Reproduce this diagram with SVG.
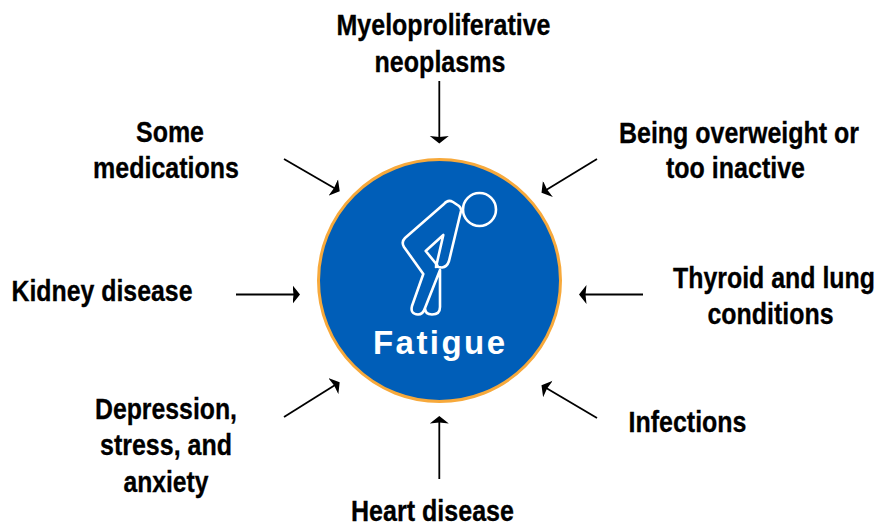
<svg xmlns="http://www.w3.org/2000/svg" width="890" height="523" viewBox="0 0 890 523">
<defs>
<marker id="ah" markerUnits="userSpaceOnUse" markerWidth="8" markerHeight="20" refX="4" refY="9.500" orient="auto" viewBox="0 0 8 19"><path d="M0 0L7.500 9.500L0 19L1 9.500Z" fill="#000"/></marker>
</defs>
<style>
.l{font-family:"Liberation Sans",Arial,sans-serif;font-weight:700;font-size:29px;fill:#000;stroke:#000;stroke-width:.3px;text-anchor:middle}
.c{fill:none;stroke:#000;stroke-width:1.800;marker-end:url(#ah)}
.f{fill:none;stroke:#fff;stroke-width:2.600;stroke-linejoin:round;stroke-linecap:round}
</style>
<rect width="890" height="523" fill="#fff"/>
<g id="connectors">
<line class="c" x1="439.300" y1="81" x2="439.300" y2="140"/>
<line class="c" x1="284" y1="159" x2="336.700" y2="189.500"/>
<line class="c" x1="597" y1="159" x2="544.500" y2="191"/>
<line class="c" x1="236" y1="294.500" x2="296.500" y2="294.500"/>
<line class="c" x1="643" y1="294.500" x2="582.500" y2="294.500"/>
<line class="c" x1="284" y1="417" x2="336.700" y2="384"/>
<line class="c" x1="597" y1="418" x2="544.500" y2="387"/>
<line class="c" x1="439.300" y1="479" x2="439.300" y2="419.500"/>
</g>
<g id="fatigue">
<circle cx="439.500" cy="280.500" r="121" fill="#005EB8" stroke="#F7A93B" stroke-width="3"/>
<circle class="f" cx="479.500" cy="209.500" r="16.500"/>
<path class="f" d="M444 204Q448 199 453 202L459 206Q461.500 208 461 211L449 261Q447 267 442 267.500Q437 267.500 436 265M443.300 235L425.700 251L437.500 265.500M443.300 235L436 267M444 204L405 238Q401 242 404 247L423.300 274L412 306Q410 314 418 314.500Q423 314.500 425 308L440 270L440 307Q440 314.500 432 314.500Q425 314.500 425 308"/>
<text x="440" y="354" font-family="Liberation Sans, Arial, sans-serif" font-weight="700" font-size="33" letter-spacing="2" fill="#fff" text-anchor="middle" textLength="134" lengthAdjust="spacing">Fatigue</text>
</g>
<g id="n-mpn"><text class="l" x="443.500" y="35" textLength="214" lengthAdjust="spacingAndGlyphs">Myeloproliferative</text><text class="l" x="440" y="71.500" textLength="131" lengthAdjust="spacingAndGlyphs">neoplasms</text></g>
<g id="n-med"><text class="l" x="170" y="142" textLength="68" lengthAdjust="spacingAndGlyphs">Some</text><text class="l" x="166" y="178" textLength="146" lengthAdjust="spacingAndGlyphs">medications</text></g>
<g id="n-weight"><text class="l" x="739" y="142.500" textLength="240" lengthAdjust="spacingAndGlyphs">Being overweight or</text><text class="l" x="735.500" y="178" textLength="139" lengthAdjust="spacingAndGlyphs">too inactive</text></g>
<g id="n-kidney"><text class="l" x="102" y="300.500" textLength="181" lengthAdjust="spacingAndGlyphs">Kidney disease</text></g>
<g id="n-thyroid"><text class="l" x="774" y="287.500" textLength="202" lengthAdjust="spacingAndGlyphs">Thyroid and lung</text><text class="l" x="770.500" y="323.500" textLength="126" lengthAdjust="spacingAndGlyphs">conditions</text></g>
<g id="n-dep"><text class="l" x="166" y="418.500" textLength="142" lengthAdjust="spacingAndGlyphs">Depression,</text><text class="l" x="166" y="455" textLength="132" lengthAdjust="spacingAndGlyphs">stress, and</text><text class="l" x="166" y="491.500" textLength="85" lengthAdjust="spacingAndGlyphs">anxiety</text></g>
<g id="n-inf"><text class="l" x="687.500" y="432" textLength="118" lengthAdjust="spacingAndGlyphs">Infections</text></g>
<g id="n-heart"><text class="l" x="432.500" y="520.500" textLength="163" lengthAdjust="spacingAndGlyphs">Heart disease</text></g>
</svg>
